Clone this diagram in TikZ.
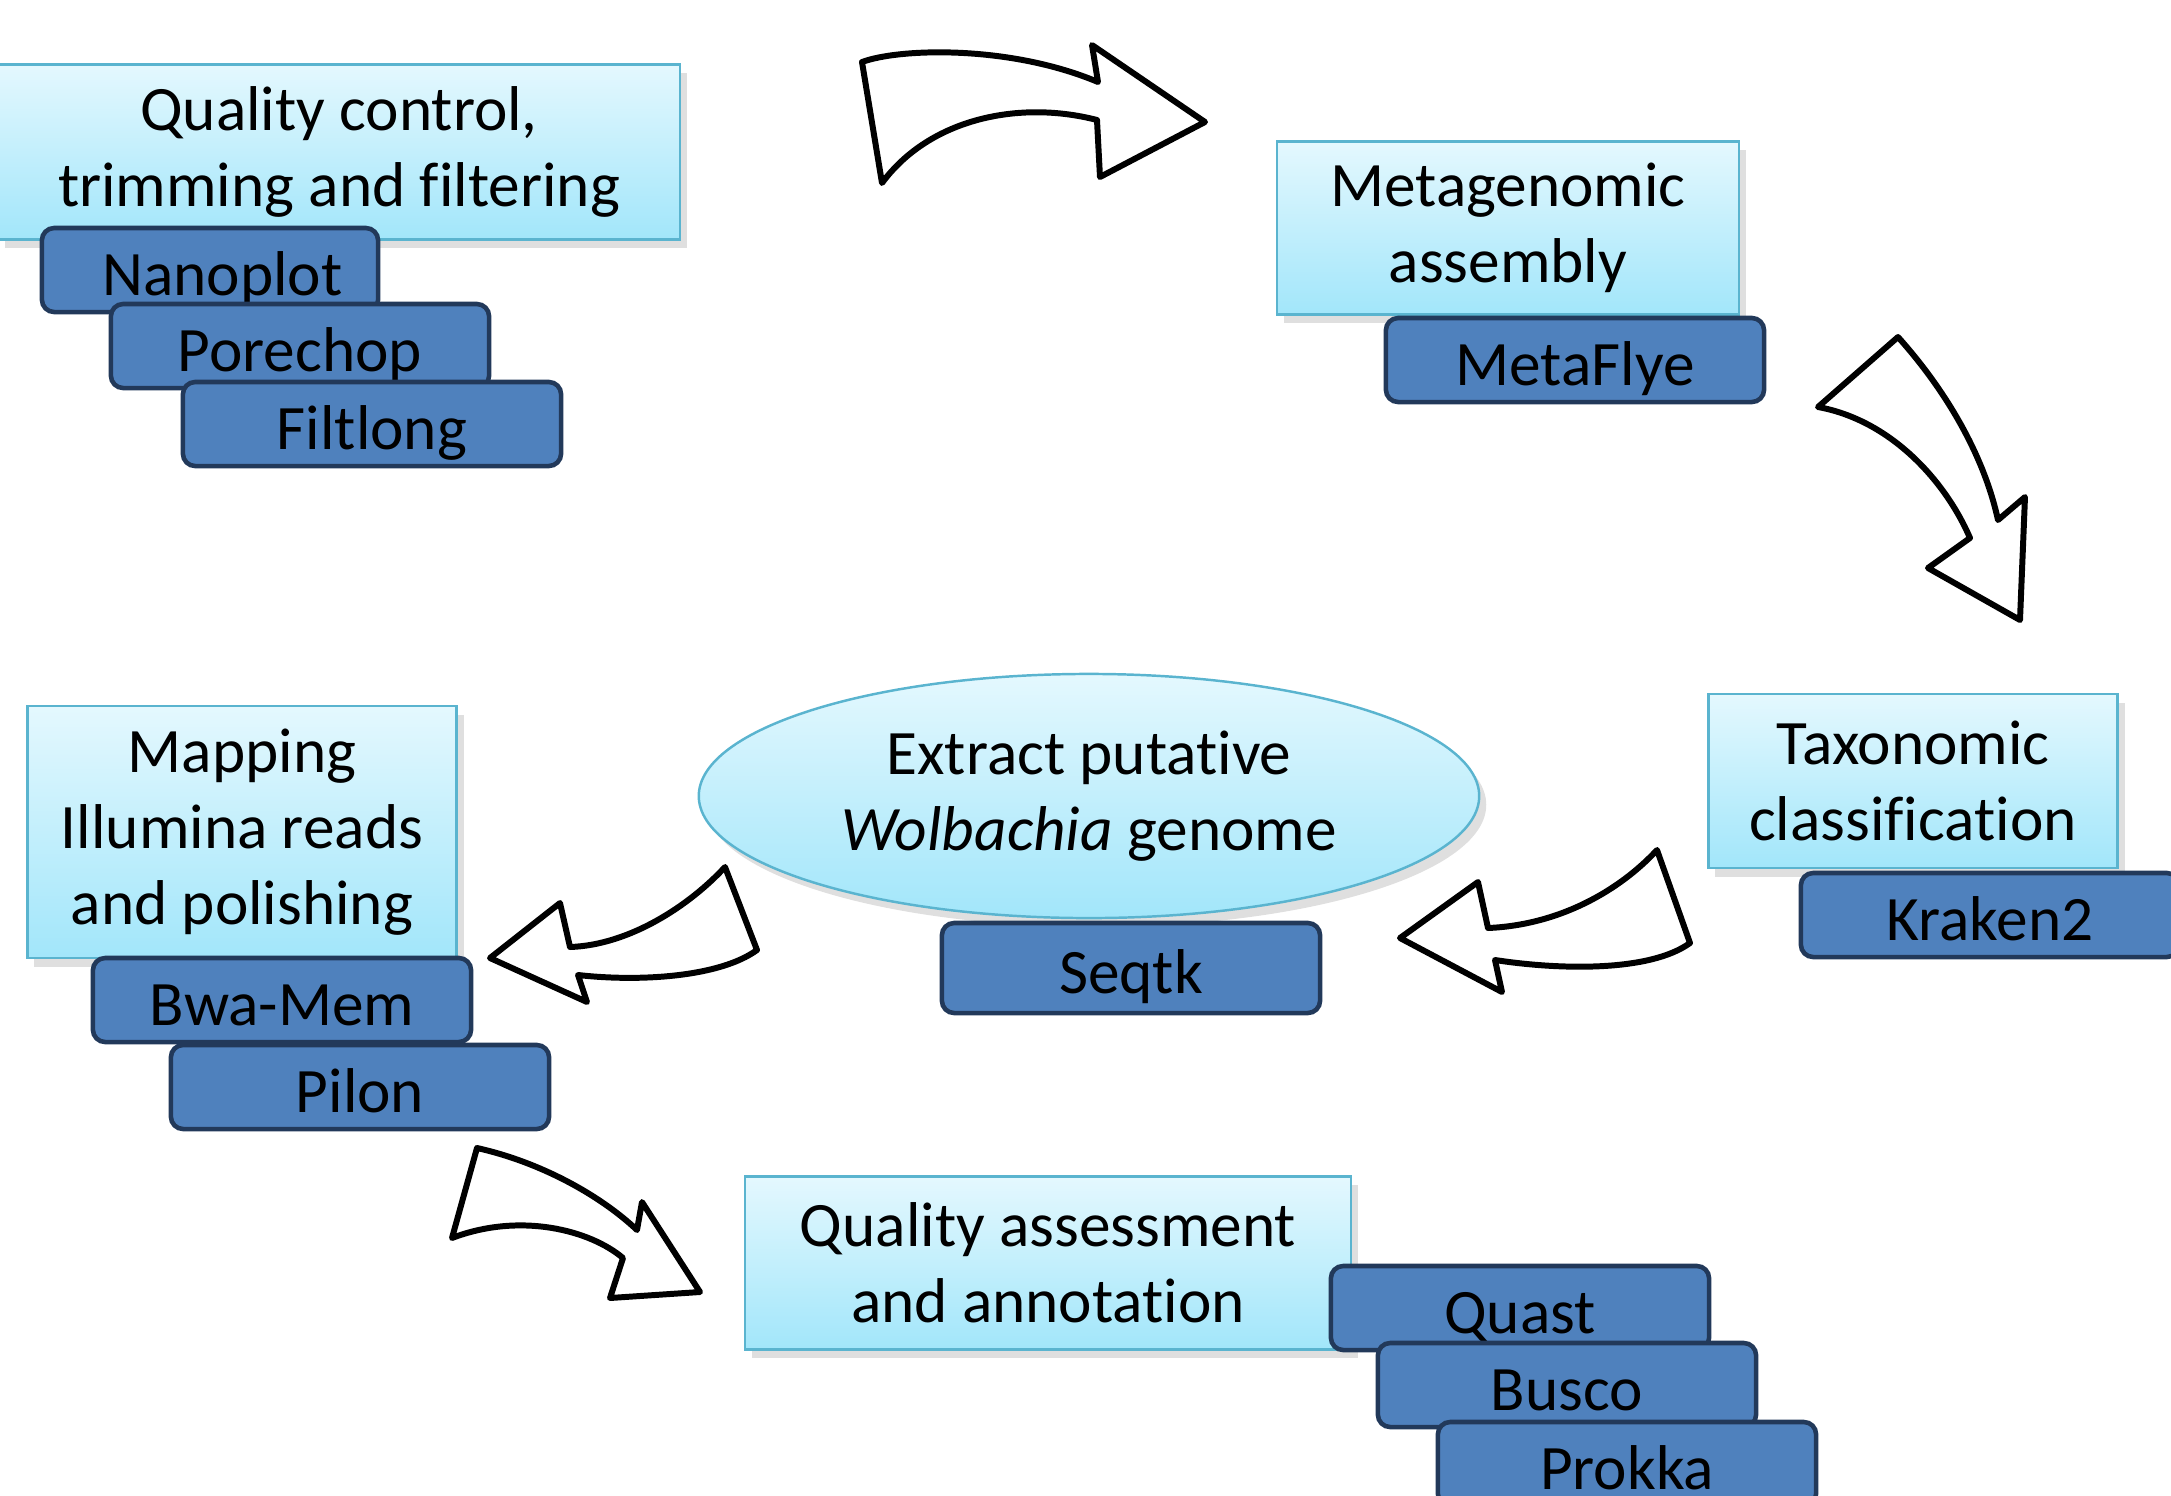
\documentclass[tikz,border=0pt]{standalone}
\usepackage{fontspec}
\setmainfont[Ligatures=NoCommon]{Carlito}
\usetikzlibrary{shapes.geometric,shadows}

\definecolor{stagetop}{HTML}{E4F8FE}
\definecolor{stagebot}{HTML}{A2E6FA}
\definecolor{stageline}{HTML}{5AB4CF}
\definecolor{toolfill}{HTML}{4F81BD}
\definecolor{toolline}{HTML}{22395A}

\begin{document}
\begin{tikzpicture}[
  x=0.01cm, y=-0.01cm,
  font=\fontsize{18}{21.6}\selectfont,
  stage/.style={draw=stageline, line width=0.7pt, top color=stagetop, bottom color=stagebot, align=center, inner sep=0pt,
    drop shadow={opacity=0.25, shadow xshift=2pt, shadow yshift=-2.5pt}},
  tool/.style={draw=toolline, line width=1.3pt, fill=toolfill, rounded corners=3.5pt, minimum width=3.78cm, minimum height=0.84cm,
    inner sep=0pt, text height=0.58cm, text depth=0.08cm},
  bentarrow/.style={draw=black, fill=white, line width=1.7pt, line join=round}
]
\useasboundingbox (0,0) rectangle (2171,1496);
\clip (0,0) rectangle (2171,1496);

% stages
\node[stage, minimum width=6.82cm, minimum height=1.75cm] (qc) at (339,152) {Quality control,\\trimming and filtering};
\node[stage, minimum width=4.62cm, minimum height=1.73cm] (asm) at (1508,228) {Metagenomic\\assembly};
\node[stage, minimum width=4.09cm, minimum height=1.74cm] (tax) at (1913,781) {Taxonomic\\classification};
\node[stage, ellipse, minimum width=7.8cm, minimum height=2.44cm] (extract) at (1089,796) {Extract putative\\\textit{Wolbachia} genome};
\node[stage, minimum width=4.29cm, minimum height=2.52cm] (map) at (242,832) {Mapping\\Illumina reads\\and polishing};
\node[stage, minimum width=6.06cm, minimum height=1.73cm] (qa) at (1048,1263) {Quality assessment\\and annotation};

% tools
\node[tool, minimum width=3.36cm] (nanoplot) at (210,270) {\hspace*{0.25cm}Nanoplot};
\node[tool] (porechop) at (300,346) {Porechop};
\node[tool] (filtlong) at (372,424) {Filtlong};
\node[tool] (metaflye) at (1575,360) {MetaFlye};
\node[tool] (kraken) at (1990,915) {Kraken2};
\node[tool, minimum height=0.9cm] (seqtk) at (1131,968) {Seqtk};
\node[tool] (bwamem) at (282,1000) {Bwa-Mem};
\node[tool] (pilon) at (360,1087) {Pilon};
\node[tool] (quast) at (1520,1308) {Quast};
\node[tool] (busco) at (1567,1385) {Busco};
\node[tool] (prokka) at (1627,1464) {Prokka};

% block arrows
\draw[bentarrow] (862,62) .. controls (900,48) and (1010,45) .. (1098,82)
  -- (1092,45) -- (1205,122) -- (1100,177) -- (1097,120)
  .. controls (1020,100) and (930,118) .. (882,183) -- cycle;
\draw[bentarrow] (1898,337) .. controls (1950,395) and (1985,460) .. (1998,520)
  -- (2025,497) -- (2020,620) -- (1928,568) -- (1970,538)
  .. controls (1945,480) and (1890,420) .. (1818,407) -- cycle;
\draw[bentarrow] (1657,850) .. controls (1620,890) and (1560,925) .. (1488,928)
  -- (1478,882) -- (1400,938) -- (1502,992) -- (1495,960)
  .. controls (1560,970) and (1650,972) .. (1690,943) -- cycle;
\draw[bentarrow] (725,867) .. controls (690,905) and (630,945) .. (570,947)
  -- (560,903) -- (490,958) -- (587,1002) -- (578,975)
  .. controls (640,982) and (720,977) .. (757,950) -- cycle;
\draw[bentarrow] (477,1148) .. controls (540,1162) and (600,1195) .. (637,1230)
  -- (642,1202) -- (700,1292) -- (610,1298) -- (623,1258)
  .. controls (590,1230) and (520,1212) .. (452,1238) -- cycle;
\end{tikzpicture}
\end{document}
